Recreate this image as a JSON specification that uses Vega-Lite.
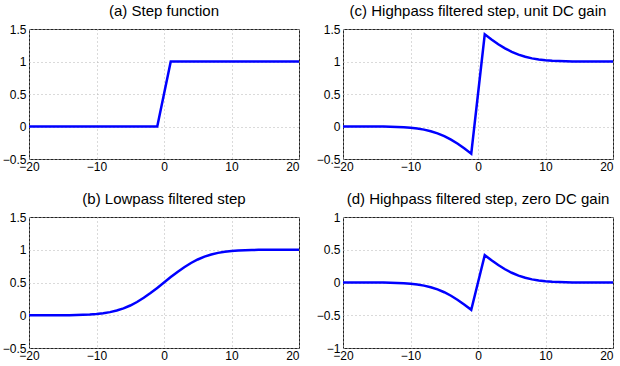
{
  "$schema": "https://vega.github.io/schema/vega-lite/v6.json",
  "padding": {"left": 1, "top": 3, "right": 7, "bottom": 6},
  "data": {"values": [
    {"x": -20, "a": 0, "b": 0, "c": 0, "d": 0},
    {"x": -19, "a": 0, "b": 0, "c": 0, "d": 0},
    {"x": -18, "a": 0, "b": 0.0001, "c": -0.0001, "d": -0.0001},
    {"x": -17, "a": 0, "b": 0.0002, "c": -0.0002, "d": -0.0002},
    {"x": -16, "a": 0, "b": 0.0004, "c": -0.0004, "d": -0.0004},
    {"x": -15, "a": 0, "b": 0.0009, "c": -0.0009, "d": -0.0009},
    {"x": -14, "a": 0, "b": 0.0018, "c": -0.0018, "d": -0.0018},
    {"x": -13, "a": 0, "b": 0.0034, "c": -0.0034, "d": -0.0034},
    {"x": -12, "a": 0, "b": 0.0062, "c": -0.0062, "d": -0.0062},
    {"x": -11, "a": 0, "b": 0.011, "c": -0.011, "d": -0.011},
    {"x": -10, "a": 0, "b": 0.0186, "c": -0.0186, "d": -0.0186},
    {"x": -9, "a": 0, "b": 0.0304, "c": -0.0304, "d": -0.0304},
    {"x": -8, "a": 0, "b": 0.0478, "c": -0.0478, "d": -0.0478},
    {"x": -7, "a": 0, "b": 0.0723, "c": -0.0723, "d": -0.0723},
    {"x": -6, "a": 0, "b": 0.1056, "c": -0.1056, "d": -0.1056},
    {"x": -5, "a": 0, "b": 0.1488, "c": -0.1488, "d": -0.1488},
    {"x": -4, "a": 0, "b": 0.2023, "c": -0.2023, "d": -0.2023},
    {"x": -3, "a": 0, "b": 0.266, "c": -0.266, "d": -0.266},
    {"x": -2, "a": 0, "b": 0.3384, "c": -0.3384, "d": -0.3384},
    {"x": -1, "a": 0, "b": 0.4175, "c": -0.4175, "d": -0.4175},
    {"x": 0, "a": 0.5, "b": 0.5, "c": 0.5, "d": 0},
    {"x": 1, "a": 1, "b": 0.5825, "c": 1.4175, "d": 0.4175},
    {"x": 2, "a": 1, "b": 0.6616, "c": 1.3384, "d": 0.3384},
    {"x": 3, "a": 1, "b": 0.734, "c": 1.266, "d": 0.266},
    {"x": 4, "a": 1, "b": 0.7977, "c": 1.2023, "d": 0.2023},
    {"x": 5, "a": 1, "b": 0.8512, "c": 1.1488, "d": 0.1488},
    {"x": 6, "a": 1, "b": 0.8944, "c": 1.1056, "d": 0.1056},
    {"x": 7, "a": 1, "b": 0.9277, "c": 1.0723, "d": 0.0723},
    {"x": 8, "a": 1, "b": 0.9522, "c": 1.0478, "d": 0.0478},
    {"x": 9, "a": 1, "b": 0.9696, "c": 1.0304, "d": 0.0304},
    {"x": 10, "a": 1, "b": 0.9814, "c": 1.0186, "d": 0.0186},
    {"x": 11, "a": 1, "b": 0.989, "c": 1.011, "d": 0.011},
    {"x": 12, "a": 1, "b": 0.9938, "c": 1.0062, "d": 0.0062},
    {"x": 13, "a": 1, "b": 0.9966, "c": 1.0034, "d": 0.0034},
    {"x": 14, "a": 1, "b": 0.9982, "c": 1.0018, "d": 0.0018},
    {"x": 15, "a": 1, "b": 0.9991, "c": 1.0009, "d": 0.0009},
    {"x": 16, "a": 1, "b": 0.9996, "c": 1.0004, "d": 0.0004},
    {"x": 17, "a": 1, "b": 0.9998, "c": 1.0002, "d": 0.0002},
    {"x": 18, "a": 1, "b": 0.9999, "c": 1.0001, "d": 0.0001},
    {"x": 19, "a": 1, "b": 1, "c": 1, "d": 0},
    {"x": 20, "a": 1, "b": 1, "c": 1, "d": 0}
  ]},
  "bounds": "flush",
  "spacing": {"row": 58, "column": 44},
  "columns": 2,
  "concat": [
    {
      "title": "(a) Step function",
      "width": 270, "height": 130,
      "mark": {"type": "line", "color": "#0000ff", "strokeWidth": 2.5, "clip": true},
      "encoding": {
        "x": {"field": "x", "type": "quantitative", "scale": {"domain": [-20, 20], "nice": false}, "axis": {"values": [-20, -10, 0, 10, 20]}},
        "y": {"field": "a", "type": "quantitative", "scale": {"domain": [-0.5, 1.5], "nice": false, "zero": false}, "axis": {"values": [-0.5, 0, 0.5, 1, 1.5]}}
      }
    },
    {
      "title": "(c) Highpass filtered step, unit DC gain",
      "width": 270, "height": 130,
      "mark": {"type": "line", "color": "#0000ff", "strokeWidth": 2.5, "clip": true},
      "encoding": {
        "x": {"field": "x", "type": "quantitative", "scale": {"domain": [-20, 20], "nice": false}, "axis": {"values": [-20, -10, 0, 10, 20]}},
        "y": {"field": "c", "type": "quantitative", "scale": {"domain": [-0.5, 1.5], "nice": false, "zero": false}, "axis": {"values": [-0.5, 0, 0.5, 1, 1.5]}}
      }
    },
    {
      "title": "(b) Lowpass filtered step",
      "width": 270, "height": 131,
      "mark": {"type": "line", "color": "#0000ff", "strokeWidth": 2.5, "clip": true},
      "encoding": {
        "x": {"field": "x", "type": "quantitative", "scale": {"domain": [-20, 20], "nice": false}, "axis": {"values": [-20, -10, 0, 10, 20]}},
        "y": {"field": "b", "type": "quantitative", "scale": {"domain": [-0.5, 1.5], "nice": false, "zero": false}, "axis": {"values": [-0.5, 0, 0.5, 1, 1.5]}}
      }
    },
    {
      "title": "(d) Highpass filtered step, zero DC gain",
      "width": 270, "height": 131,
      "mark": {"type": "line", "color": "#0000ff", "strokeWidth": 2.5, "clip": true},
      "encoding": {
        "x": {"field": "x", "type": "quantitative", "scale": {"domain": [-20, 20], "nice": false}, "axis": {"values": [-20, -10, 0, 10, 20]}},
        "y": {"field": "d", "type": "quantitative", "scale": {"domain": [-1, 1], "nice": false, "zero": false}, "axis": {"values": [-1, -0.5, 0, 0.5, 1]}}
      }
    }
  ],
  "config": {
    "view": {"stroke": "#222222", "strokeWidth": 1},
    "axis": {
      "title": null,
      "domain": false,
      "ticks": false,
      "grid": true,
      "gridColor": "#b4b4b4",
      "gridDash": [1, 3],
      "gridWidth": 1,
      "labelFont": "Liberation Sans",
      "labelFontSize": 12,
      "labelColor": "#000000",
      "labelPadding": 3,
      "labelFlush": false,
      "format": "~r"
    },
    "axisX": {
      "labelAlign": {"condition": {"test": "datum.value == 20", "value": "right"}, "value": "center"},
      "labelPadding": 2
    },
    "title": {"font": "Liberation Sans", "fontSize": 15, "fontWeight": "normal", "color": "#000000", "offset": 4, "anchor": "middle"}
  }
}
